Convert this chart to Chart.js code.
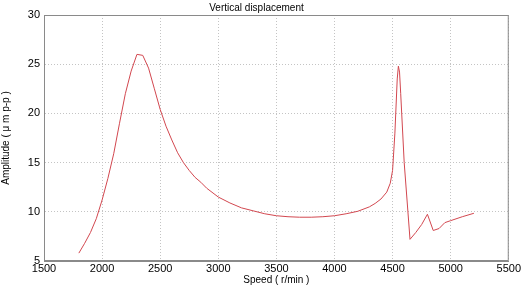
<!DOCTYPE html>
<html>
<head>
<meta charset="utf-8">
<script src="https://cdn.jsdelivr.net/npm/chart.js@4"></script>
<style>
  html, body { margin: 0; padding: 0; background: #fff; }
  #wrap { width: 522px; height: 286px; }
</style>
</head>
<body>
<div id="wrap"><canvas id="myChart" width="522" height="286"></canvas></div>
<script>
let speeds = [1800, 1850, 1900, 1950, 2000, 2050, 2100, 2150, 2200, 2250,
  2300, 2350, 2400, 2450, 2500, 2550, 2600, 2650, 2700, 2750,
  2800, 2850, 2900, 3000, 3100, 3200, 3300, 3400, 3500, 3600,
  3700, 3800, 3900, 4000, 4100, 4200, 4300, 4350, 4400, 4450,
  4480, 4500, 4520, 4540, 4550, 4560, 4570, 4600, 4650, 4700,
  4750, 4800, 4850, 4900, 4950, 5000, 5100, 5200];
let amplitude = [5.8, 6.8, 7.9, 9.3, 11.2, 13.4, 15.9, 19.0, 22.0, 24.3,
  26.0, 25.9, 24.6, 22.5, 20.4, 18.7, 17.3, 16.0, 15.0, 14.2,
  13.5, 13.0, 12.4, 11.5, 10.9, 10.4, 10.1, 9.8, 9.6, 9.5,
  9.45, 9.45, 9.5, 9.6, 9.8, 10.05, 10.5, 10.85, 11.3, 12.0,
  12.9, 14.2, 18.0, 23.5, 24.8, 24.2, 22.0, 15.0, 7.2, 7.9,
  8.7, 9.75, 8.1, 8.3, 8.9, 9.1, 9.5, 9.85];
let xTicks = [1500, 2000, 2500, 3000, 3500, 4000, 4500, 5000, 5500];
let yTicks = [5, 10, 15, 20, 25, 30];

let points = speeds.map((s, i) => ({ x: s, y: amplitude[i] }));
let font = "'Liberation Sans', Arial, sans-serif";

// draw the top/right sides of the axes box
const boxPlugin = {
  id: "box",
  afterDraw(chart) {
    let a = chart.chartArea;
    let c = chart.ctx;
    c.save();
    c.strokeStyle = "#8a8a8a";
    c.lineWidth = 1;
    c.strokeRect(a.left + 0.5, a.top + 0.5, a.right - a.left - 1, a.bottom - a.top - 1);
    c.restore();
  }
};

let ctx = document.getElementById("myChart");
let myLineChart = new Chart(ctx, {
  type: "line",
  data: {
    datasets: [{
      label: "Vertical displacement",
      data: points,
      borderColor: "#d2474f",
      borderWidth: 1,
      pointRadius: 0,
      tension: 0,
      fill: false
    }]
  },
  options: {
    responsive: false,
    animation: false,
    layout: { padding: { left: 0, right: 9, top: 0, bottom: 0 } },
    plugins: {
      legend: { display: false },
      tooltip: { enabled: false },
      title: {
        display: true,
        text: "Vertical displacement",
        color: "#000",
        font: { family: font, size: 10, weight: "normal" },
        padding: { top: 2, bottom: 1 }
      }
    },
    scales: {
      x: {
        type: "linear",
        min: 1500,
        max: 5500,
        afterBuildTicks: s => { s.ticks = xTicks.map(v => ({ value: v })); },
        afterFit: s => { s.height = 25; },
        ticks: {
          color: "#000",
          font: { family: font, size: 11 },
          padding: 1,
          maxRotation: 0,
          callback: v => String(v)
        },
        grid: {
          color: "#c4c4c4",
          drawTicks: false
        },
        border: { color: "#8a8a8a", dash: [1, 2] },
        title: {
          display: true,
          text: "Speed ( r/min )",
          color: "#000",
          font: { family: font, size: 10 },
          padding: { top: 0, bottom: 0 }
        }
      },
      y: {
        type: "linear",
        min: 5,
        max: 30,
        afterBuildTicks: s => { s.ticks = yTicks.map(v => ({ value: v })); },
        afterFit: s => { s.width = 44; },
        ticks: {
          color: "#000",
          font: { family: font, size: 11 },
          padding: 4,
          callback: v => String(v)
        },
        grid: {
          color: "#c4c4c4",
          drawTicks: false
        },
        border: { color: "#8a8a8a", dash: [1, 2] },
        title: {
          display: true,
          text: "Amplitude ( μ m p-p )",
          color: "#000",
          font: { family: "'Liberation Sans Narrow', 'Liberation Sans', Arial, sans-serif", size: 10 },
          padding: { top: 0, bottom: 0 }
        }
      }
    }
  },
  plugins: [boxPlugin]
});
</script>
</body>
</html>
